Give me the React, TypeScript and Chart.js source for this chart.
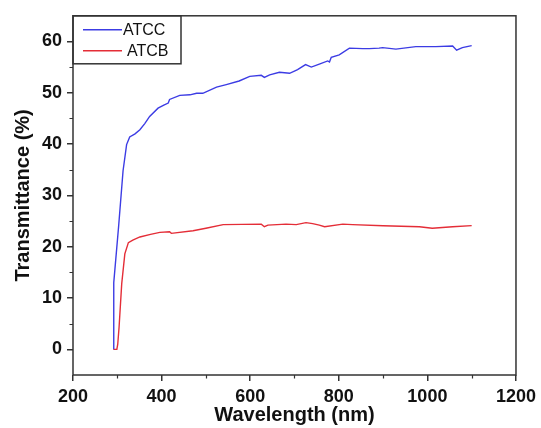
import React, { useEffect, useRef } from "react";
import { Chart, registerables } from "chart.js";

Chart.register(...registerables);

const atccWavelength = [292, 292, 303, 313, 321, 328, 340, 351, 362, 373, 392, 405, 415, 418, 441, 464, 479, 493, 524, 546, 575, 599, 625, 632, 644, 666, 689, 707, 725, 738, 756, 775, 779, 783, 801, 824, 854, 869, 891, 899, 929, 974, 1019, 1057, 1066, 1079, 1100];
const atccValues = [0, 13, 24, 34.8, 39.9, 41.4, 42.0, 42.8, 44.0, 45.4, 47.0, 47.6, 48.0, 48.7, 49.5, 49.6, 49.9, 49.9, 51.1, 51.6, 52.3, 53.2, 53.4, 53.0, 53.5, 54.0, 53.8, 54.5, 55.5, 55.0, 55.6, 56.2, 56.0, 56.9, 57.4, 58.7, 58.6, 58.6, 58.7, 58.8, 58.5, 59.0, 59.0, 59.1, 58.3, 58.8, 59.2];

const atcbWavelength = [291, 299, 301, 304, 310, 317, 325, 335, 351, 375, 396, 418, 422, 471, 500, 539, 625, 632, 640, 681, 704, 726, 741, 756, 768, 809, 831, 900, 982, 1011, 1057, 1100];
const atcbValues = [0, 0, 1, 4.3, 12.8, 18.6, 20.8, 21.3, 21.9, 22.4, 22.8, 22.9, 22.6, 23.1, 23.6, 24.3, 24.4, 23.9, 24.2, 24.4, 24.3, 24.7, 24.5, 24.2, 23.9, 24.4, 24.3, 24.1, 23.9, 23.6, 23.9, 24.1];

const seriesLabels = ["ATCC", "ATCB"];
const seriesColors = ["rgb(60,60,228)", "rgb(228,45,55)"];

const xTicks = [200, 400, 600, 800, 1000, 1200];
const xMinorTicks = [300, 500, 700, 900, 1100];
const yTicks = [0, 10, 20, 30, 40, 50, 60];
const yMinorTicks = [5, 15, 25, 35, 45, 55];

const INK = "#333";
const TEXT = "#111";

const framePlugin = {
  id: "frameAndLegend",
  afterDraw(chart: any) {
    const { ctx, chartArea } = chart;
    const xs = chart.scales.x;
    const ys = chart.scales.y;
    ctx.save();
    ctx.strokeStyle = INK;
    ctx.lineWidth = 1.5;
    ctx.strokeRect(chartArea.left, chartArea.top, chartArea.right - chartArea.left, chartArea.bottom - chartArea.top);
    // minor ticks
    ctx.lineWidth = 1.2;
    ctx.beginPath();
    xMinorTicks.forEach((v) => {
      const px = Math.round(xs.getPixelForValue(v)) + 0.5;
      ctx.moveTo(px, chartArea.bottom);
      ctx.lineTo(px, chartArea.bottom + 3.5);
    });
    yMinorTicks.forEach((v) => {
      const py = Math.round(ys.getPixelForValue(v)) + 0.5;
      ctx.moveTo(chartArea.left, py);
      ctx.lineTo(chartArea.left - 3.5, py);
    });
    ctx.stroke();
    // legend box
    const bx = chartArea.left;
    const by = chartArea.top;
    ctx.lineWidth = 1.5;
    ctx.strokeRect(bx, by, 108, 48);
    const rows = [14, 35];
    const textOffsets = [50, 54];
    ctx.font = "16px 'Liberation Sans', Arial, sans-serif";
    ctx.textBaseline = "middle";
    ctx.textAlign = "left";
    chart.data.datasets.forEach((ds: any, i: number) => {
      const y = by + rows[i];
      ctx.strokeStyle = ds.borderColor;
      ctx.lineWidth = 1.4;
      ctx.beginPath();
      ctx.moveTo(bx + 10, y);
      ctx.lineTo(bx + 49, y);
      ctx.stroke();
      ctx.fillStyle = TEXT;
      ctx.fillText(ds.label, bx + textOffsets[i], y + 1);
    });
    ctx.restore();
  },
};

export default function App() {
  const ref = useRef<HTMLCanvasElement | null>(null);
  useEffect(() => {
    if (!ref.current) return;
    const tickFont = { family: "'Liberation Sans', Arial, sans-serif", size: 18, weight: "bold" as const };
    const titleFont = { family: "'Liberation Sans', Arial, sans-serif", size: 20, weight: "bold" as const, lineHeight: 1 };
    const chart = new Chart(ref.current, {
      type: "line",
      data: {
        datasets: [
          {
            label: seriesLabels[0],
            data: atccWavelength.map((x, i) => ({ x, y: atccValues[i] })),
            borderColor: seriesColors[0],
            borderWidth: 1.4,
            pointRadius: 0,
            tension: 0,
            fill: false,
          },
          {
            label: seriesLabels[1],
            data: atcbWavelength.map((x, i) => ({ x, y: atcbValues[i] })),
            borderColor: seriesColors[1],
            borderWidth: 1.4,
            pointRadius: 0,
            tension: 0,
            fill: false,
          },
        ],
      },
      plugins: [framePlugin],
      options: {
        animation: false,
        responsive: false,
        devicePixelRatio: 1,
        layout: { padding: { top: 14, right: 24, left: 0, bottom: 0 } },
        plugins: { legend: { display: false }, tooltip: { enabled: false } },
        scales: {
          x: {
            type: "linear",
            min: 200,
            max: 1200,
            afterBuildTicks: (scale: any) => {
              scale.ticks = xTicks.map((v) => ({ value: v }));
            },
            afterFit: (scale: any) => {
              scale.height = 53;
            },
            border: { display: false },
            grid: { drawOnChartArea: false, drawTicks: true, tickLength: 6, color: INK, lineWidth: 1.5 },
            ticks: { font: tickFont, color: TEXT, padding: 5, maxRotation: 0, callback: (v: any) => String(v) },
            title: { display: true, text: "Wavelength (nm)", font: titleFont, color: TEXT, padding: { top: 0, bottom: 3 } },
          },
          y: {
            type: "linear",
            min: -5,
            max: 65,
            afterBuildTicks: (scale: any) => {
              scale.ticks = yTicks.map((v) => ({ value: v }));
            },
            afterFit: (scale: any) => {
              scale.width = 73;
            },
            border: { display: false },
            grid: { drawOnChartArea: false, drawTicks: true, tickLength: 6, color: INK, lineWidth: 1.5 },
            ticks: { font: tickFont, color: TEXT, padding: 5, callback: (v: any) => String(v) },
            title: { display: true, text: "Transmittance (%)", font: titleFont, color: TEXT, padding: { top: 13, bottom: 0 } },
          },
        },
      },
    });
    return () => chart.destroy();
  }, []);
  return (
    <div style={{ position: "absolute", left: 0, top: 0, width: 541, height: 428, background: "#fff" }}>
      <canvas ref={ref} width={541} height={428} style={{ display: "block" }} />
    </div>
  );
}
